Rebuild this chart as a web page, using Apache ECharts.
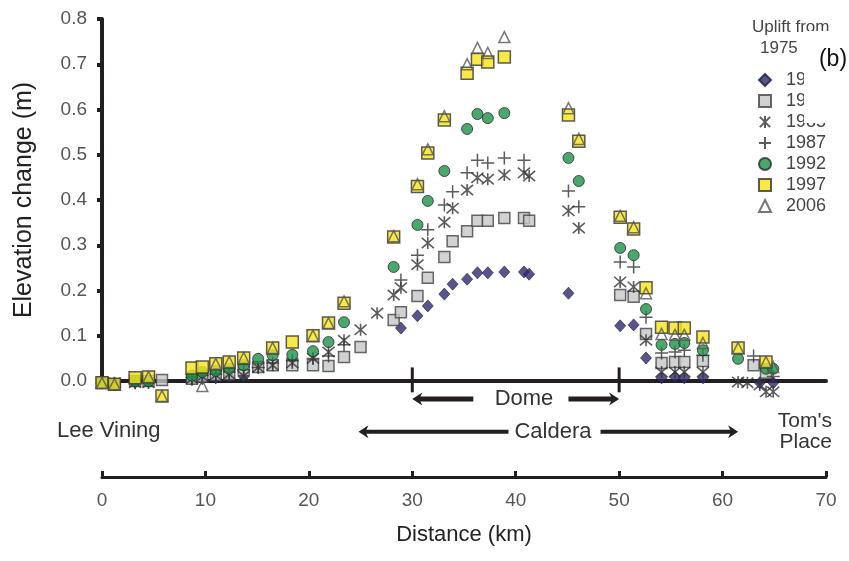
<!DOCTYPE html>
<html><head><meta charset="utf-8">
<script src="https://cdn.jsdelivr.net/npm/echarts/dist/echarts.min.js"></script>
<style>html,body{margin:0;padding:0;background:#fff}#c{width:849px;height:561px}</style>
</head><body><div id="c"></div>
<script>
// ---- data ----
const stationsKm = [0.0,1.2,3.2,4.5,5.8,8.7,9.7,11.0,12.3,13.7,15.1,16.5,18.4,20.4,21.9,23.4,25.0,26.6,28.2,28.9,30.5,31.5,33.1,33.9,35.3,36.3,37.3,38.9,40.8,41.3,45.1,46.1,50.1,51.4,52.6,54.1,55.4,56.3,58.1,61.5,62.4,63.0,63.6,64.2,64.9];
const years = ['1980','1983','1985','1987','1992','1997','2006'];
const up1980 = [-0.004,-0.005,-0.003,null,null,0.003,0.005,0.007,0.009,0.010,null,null,null,null,null,null,null,null,null,0.117,0.144,0.166,0.192,0.214,0.225,0.239,0.239,0.241,0.241,0.236,0.194,null,0.122,0.124,0.051,0.007,0.009,0.007,0.007,null,null,null,-0.004,null,-0.004];
const up1983 = [-0.004,-0.007,0.000,0.000,0.002,0.005,0.010,0.013,0.015,0.024,0.031,0.035,0.035,0.035,0.033,0.053,0.075,null,0.135,0.152,0.188,0.228,0.274,0.309,0.331,0.354,0.354,0.360,0.360,0.354,null,null,0.190,0.186,0.104,0.040,0.042,0.042,0.044,null,null,0.035,null,0.018,null];
const up1985 = [-0.004,-0.004,-0.004,-0.004,null,0.005,0.010,0.013,0.015,0.011,0.030,0.035,0.040,0.050,0.064,0.090,0.113,0.150,0.190,0.206,0.257,0.305,0.351,0.382,0.422,0.449,0.446,0.455,0.460,0.453,0.376,0.338,0.219,0.208,0.090,0.020,0.020,0.020,0.020,-0.002,-0.004,null,-0.009,-0.024,-0.024];
const up1987 = [-0.004,-0.006,-0.004,-0.003,null,0.008,0.012,0.015,0.020,0.025,0.030,0.040,0.045,0.050,0.055,0.080,null,null,null,0.223,0.278,0.334,0.389,0.418,0.460,0.488,0.482,0.493,0.488,null,0.420,0.385,0.263,0.252,0.141,0.062,0.064,0.068,0.057,null,null,0.055,null,null,0.010];
const up1992 = [-0.004,-0.007,0.000,0.000,null,0.012,0.020,0.022,0.027,0.035,0.049,0.057,0.058,0.066,0.086,0.130,null,null,0.252,null,0.345,0.398,0.464,null,0.557,0.590,0.581,0.592,null,null,0.493,0.442,0.294,0.278,0.159,0.080,0.082,0.084,0.068,0.049,null,null,null,0.027,0.027];
const up1997 = [-0.004,-0.007,0.007,0.009,-0.033,0.029,0.031,0.038,0.042,0.051,null,0.073,0.086,0.100,0.128,0.172,null,null,0.318,null,0.430,0.504,0.577,null,0.680,0.711,0.705,0.716,null,null,0.588,0.530,0.362,0.336,0.206,0.119,0.117,0.117,0.097,0.073,null,null,null,0.042,null];
const up2006 = [-0.004,-0.007,null,0.009,-0.033,null,-0.011,0.038,0.042,0.051,null,0.073,null,0.100,0.128,0.176,null,null,0.320,null,0.435,0.512,0.585,null,0.700,0.736,0.725,0.760,null,null,0.603,0.535,0.365,0.340,0.194,0.104,0.102,0.102,0.084,0.073,null,null,null,0.042,0.031];
const xTicks = [0,10,20,30,40,50,60,70];
const yTicks = [0,0.1,0.2,0.3,0.4,0.5,0.6,0.7,0.8];
// annotation anchors (km / m)
const domeKm = [30, 50], domeGapKm = [35.9, 45.1], domeLabelKm = 40.8, domeY = -0.04, domeTickY = [0.03, -0.025];
const calderaKm = [24.8, 61.5], calderaGapKm = [39.3, 48.2], calderaLabelKm = 43.6, calderaY = -0.112;

function pts(vals){ return stationsKm.map((k,i)=> vals[i]==null ? null : [k, vals[i]]).filter(Boolean); }

const FONT = 'Liberation Sans';
const INK = '#231f20';
const asterPath = 'path://M0,0L12,12M12,0L0,12M6,-1L6,13';
const plusPath = 'path://M0,6L12,6M6,0L6,12';

const seriesDefs = [
  {name: years[0], vals: up1980, symbol:'diamond', size:[11,12], style:{color:'#2d2b6f', borderColor:'#1c1b40', borderWidth:0.8}},
  {name: years[1], vals: up1983, symbol:'rect', size:11, style:{color:'#c6c7c9', borderColor:'#444', borderWidth:1.5}},
  {name: years[2], vals: up1985, symbol:asterPath, size:12, style:{color:'#333', borderColor:'#333', borderWidth:1.6}},
  {name: years[3], vals: up1987, symbol:plusPath, size:13, style:{color:'#333', borderColor:'#333', borderWidth:1.5}},
  {name: years[4], vals: up1992, symbol:'circle', size:11, style:{color:'#1b9447', borderColor:'#2a2a2a', borderWidth:1}},
  {name: years[5], vals: up1997, symbol:'rect', size:12, style:{color:'#f6e31c', borderColor:'#333', borderWidth:1.5}},
  {name: years[6], vals: up2006, symbol:'triangle', size:11, style:{color:'rgba(255,255,255,0)', borderColor:'#555', borderWidth:1.5}}
];

const chart = echarts.init(document.getElementById('c'));
const option = {
  animation: false,
  backgroundColor: '#fff',
  textStyle: {fontFamily: FONT},
  grid: {left: 102, right: 23, top: 19, bottom: 180},
  xAxis: [
    {type:'value', min:0, max:70, position:'bottom',
     axisLine:{lineStyle:{color:INK, width:4}}, axisTick:{show:false}, axisLabel:{show:false}, splitLine:{show:false}},
    {type:'value', min:0, max:70, interval:10, position:'bottom', offset:96,
     axisLine:{lineStyle:{color:INK, width:3}},
     axisTick:{inside:true, length:6, lineStyle:{color:INK, width:3}},
     axisLabel:{fontFamily:FONT, fontSize:19, color:'#555', margin:14, formatter: v => xTicks.includes(v) ? String(v) : ''},
     splitLine:{show:false},
     name:'Distance (km)', nameLocation:'middle', nameGap:47,
     nameTextStyle:{fontFamily:FONT, fontSize:22, color:'#222'}}
  ],
  yAxis: {type:'value', min:0, max:0.8, interval:0.1, offset:2,
    axisLine:{show:true, lineStyle:{color:INK, width:4}},
    axisTick:{show:true, length:5, lineStyle:{color:INK, width:4}},
    axisLabel:{fontFamily:FONT, fontSize:19, color:'#555', margin:13, formatter: v => yTicks.some(t=>Math.abs(t-v)<1e-6) ? v.toFixed(1) : ''},
    splitLine:{show:false},
    name:'Elevation change (m)', nameLocation:'middle', nameGap:63,
    nameTextStyle:{fontFamily:FONT, fontSize:25, color:'#222'}},
  legend: {orient:'vertical', left:753, top:66, itemWidth:12, itemHeight:12, itemGap:3,
    data: years,
    textStyle:{fontFamily:FONT, fontSize:18, color:'#444', lineHeight:18, padding:[0,0,0,10]}},
  series: seriesDefs.map(d => ({
    type:'scatter', name:d.name, data: pts(d.vals), symbol:d.symbol, symbolSize:d.size,
    itemStyle:d.style, clip:false, xAxisIndex:0, yAxisIndex:0,
    emphasis:{disabled:true}
  }))
};
chart.setOption(option);

// annotations positioned through the axis scales
const P = (x, y) => chart.convertToPixel({gridIndex:0}, [x, y]);
const g = [];
function line(a, b, w){ g.push({type:'line', shape:{x1:a[0], y1:a[1], x2:b[0], y2:b[1]}, style:{stroke:INK, lineWidth:w}, z:50}); }
function head(tip, dir){ // dir: -1 = pointing left, 1 = pointing right
  const L = 10, H = 6.5;
  g.push({type:'polygon', shape:{points:[[tip[0], tip[1]], [tip[0]-dir*L, tip[1]-H], [tip[0]-dir*(L-3), tip[1]], [tip[0]-dir*L, tip[1]+H]]}, style:{fill:INK}, z:50});
}
function txt(p, s, size, align){ g.push({type:'text', x:p[0], y:p[1], style:{text:s, fontFamily:FONT, fontSize:size, fill:'#333', align:align||'center', verticalAlign:'middle'}, z:50}); }

// dome ticks
domeKm.forEach(k => line(P(k, domeTickY[0]), P(k, domeTickY[1]), 3));
{
  const a = P(domeKm[0], domeY), b = P(domeGapKm[0], domeY), c = P(domeGapKm[1], domeY), d = P(domeKm[1], domeY);
  line([a[0]+6, a[1]], b, 5); head(a, -1); line(c, [d[0]-6, d[1]], 5); head(d, 1);
  txt(P(domeLabelKm, domeY), 'Dome', 22);
}
{
  const a = P(calderaKm[0], calderaY), b = P(calderaGapKm[0], calderaY), c = P(calderaGapKm[1], calderaY), d = P(calderaKm[1], calderaY);
  line([a[0]+6, a[1]], b, 4); head(a, -1); line(c, [d[0]-6, d[1]], 4); head(d, 1);
  txt(P(calderaLabelKm, calderaY), 'Caldera', 22);
}
txt([57, 431], 'Lee Vining', 22, 'left');
g.push({type:'text', x:832, y:432, style:{text:"Tom's\nPlace", fontFamily:FONT, fontSize:21, lineHeight:21, fill:'#333', align:'right', verticalAlign:'middle'}, z:50});
// legend title
g.push({type:'text', x:752, y:27, style:{text:'Uplift from', fontFamily:FONT, fontSize:17, fill:'#444', align:'left', verticalAlign:'middle'}, z:60});
g.push({type:'text', x:760, y:48, style:{text:'1975', fontFamily:FONT, fontSize:17, fill:'#444', align:'left', verticalAlign:'middle'}, z:60});
// panel label box
g.push({type:'rect', shape:{x:804, y:31, width:45, height:92}, style:{fill:'#fff'}, z:100});
g.push({type:'text', x:833, y:60, style:{text:'(b)', fontFamily:FONT, fontSize:23, fill:'#111', align:'center', verticalAlign:'middle'}, z:101});

chart.setOption({graphic: g});
</script>
</body></html>
